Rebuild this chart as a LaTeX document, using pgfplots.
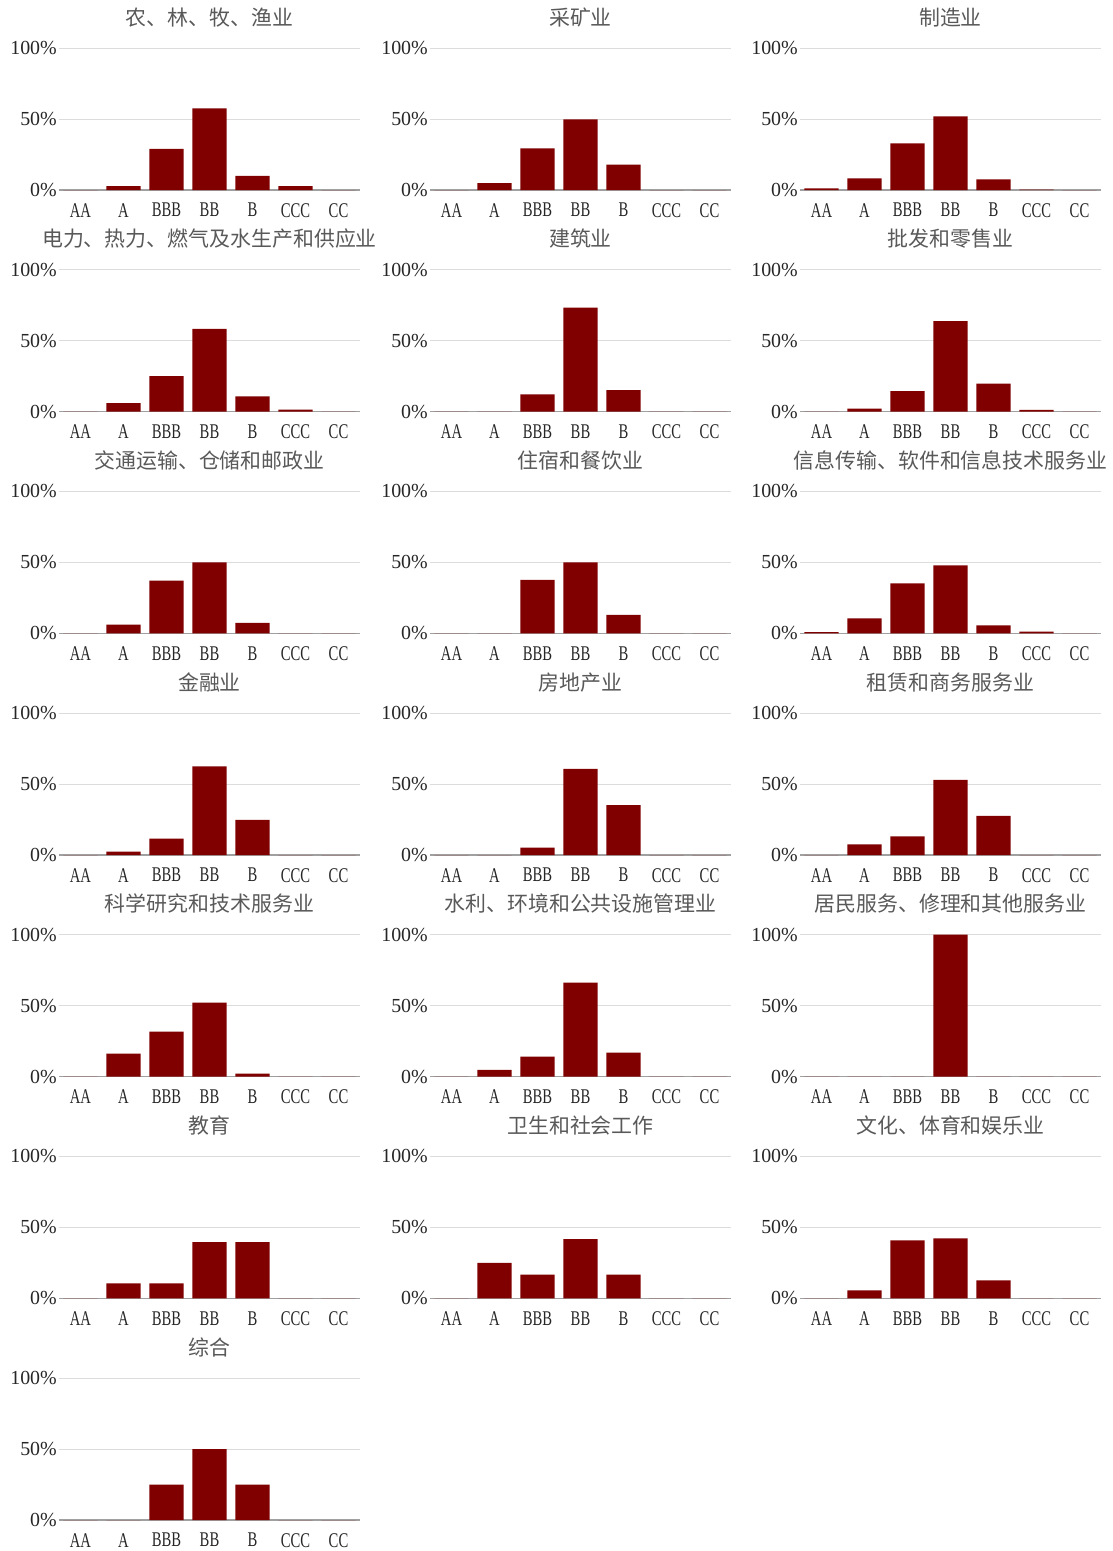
\documentclass[border=0pt]{standalone}
\usepackage{fontspec}
\setmainfont{Liberation Serif}
\newfontfamily\cjk{Noto Sans CJK SC}
\usepackage{graphicx}
\usepackage{pgfplots}
\pgfplotsset{compat=1.18}
\definecolor{barc}{HTML}{800000}
\definecolor{gridc}{HTML}{DCDCDC}
\definecolor{axc}{HTML}{A0A0A0}
\definecolor{tickc}{HTML}{262626}
\definecolor{titc}{HTML}{595959}
\newcommand\cl[1]{\scalebox{0.7}[1]{\fontsize{21}{21}\selectfont #1}}
\pgfplotsset{panel/.style={
  scale only axis, width=301bp, height=142bp, anchor=north west,
  xmin=-0.5, xmax=6.5, ymin=0, ymax=100,
  xtick={0,...,6},
  xticklabels={\cl{AA},\cl{A},\cl{BBB},\cl{BB},\cl{B},\cl{CCC},\cl{CC}},
  ytick={0,50,100}, yticklabels={0\%,50\%,100\%},
  ymajorgrids, grid style={color=gridc, line width=1bp},
  axis x line*=bottom, axis y line*=left,
  y axis line style={draw=none},
  x axis line style={color=axc, line width=1.3bp, -},
  major tick length=0pt, tick style={draw=none},
  ticklabel style={font=\fontsize{20}{20}\selectfont, text=tickc},
  xticklabel style={inner sep=0pt, anchor=north, yshift=-13bp},
  yticklabel style={inner sep=0pt, anchor=east, xshift=-2bp},
  title style={font=\cjk\fontsize{21}{21}\selectfont, text=titc, anchor=base, at={(0.5,1)}, yshift=17bp, inner sep=0pt},
  ybar, bar width=0.8,
}}
\newcommand\panel[4]{%
\begin{axis}[panel, at={(#1bp,-#2bp)}, title={#3}]
\addplot[fill=barc, draw=none] coordinates {#4};
\end{axis}}
\begin{document}
\begin{tikzpicture}
\useasboundingbox (0,0) rectangle (1113bp,-1551bp);
% row 1
\panel{59}{48}{农、林、牧、渔业}{(0,0) (1,2.8) (2,28.9) (3,57.4) (4,10.0) (5,2.8) (6,0)}
\panel{430}{48}{采矿业}{(0,0) (1,4.9) (2,29.3) (3,49.8) (4,17.8) (5,0) (6,0)}
\panel{800}{48}{制造业}{(0,1.2) (1,8.2) (2,32.9) (3,51.9) (4,7.5) (5,0.2) (6,0)}
% row 2
\panel{59}{269.7}{电力、热力、燃气及水生产和供应业}{(0,0) (1,6.1) (2,25.1) (3,58.3) (4,10.8) (5,1.4) (6,0)}
\panel{430}{269.7}{建筑业}{(0,0) (1,0) (2,12.2) (3,73.3) (4,15.2) (5,0) (6,0)}
\panel{800}{269.7}{批发和零售业}{(0,0) (1,2.1) (2,14.5) (3,63.7) (4,19.7) (5,1.3) (6,0)}
% row 3
\panel{59}{491.3}{交通运输、仓储和邮政业}{(0,0) (1,6.1) (2,37.1) (3,50.0) (4,7.3) (5,0) (6,0)}
\panel{430}{491.3}{住宿和餐饮业}{(0,0) (1,0) (2,37.6) (3,50.0) (4,12.9) (5,0) (6,0)}
\panel{800}{491.3}{信息传输、软件和信息技术服务业}{(0,0.9) (1,10.6) (2,35.2) (3,47.9) (4,5.6) (5,1.2) (6,0)}
% row 4
\panel{59}{713}{金融业}{(0,0) (1,2.3) (2,11.5) (3,62.5) (4,24.8) (5,0) (6,0)}
\panel{430}{713}{房地产业}{(0,0) (1,0) (2,5.2) (3,60.7) (4,35.1) (5,0) (6,0)}
\panel{800}{713}{租赁和商务服务业}{(0,0) (1,7.5) (2,13.1) (3,52.9) (4,27.6) (5,0) (6,0)}
% row 5
\panel{59}{934.7}{科学研究和技术服务业}{(0,0) (1,16.2) (2,31.7) (3,52.1) (4,2.1) (5,0) (6,0)}
\panel{430}{934.7}{水利、环境和公共设施管理业}{(0,0) (1,4.9) (2,14.1) (3,66.2) (4,16.9) (5,0) (6,0)}
\panel{800}{934.7}{居民服务、修理和其他服务业}{(0,0) (1,0) (2,0) (3,100) (4,0) (5,0) (6,0)}
% row 6
\panel{59}{1156.3}{教育}{(0,0) (1,10.5) (2,10.5) (3,39.5) (4,39.5) (5,0) (6,0)}
\panel{430}{1156.3}{卫生和社会工作}{(0,0) (1,25.0) (2,16.7) (3,41.7) (4,16.7) (5,0) (6,0)}
\panel{800}{1156.3}{文化、体育和娱乐业}{(0,0) (1,5.6) (2,40.8) (3,42.3) (4,12.7) (5,0) (6,0)}
% row 7
\panel{59}{1378}{综合}{(0,0) (1,0) (2,25) (3,50) (4,25) (5,0) (6,0)}
\end{tikzpicture}
\end{document}
